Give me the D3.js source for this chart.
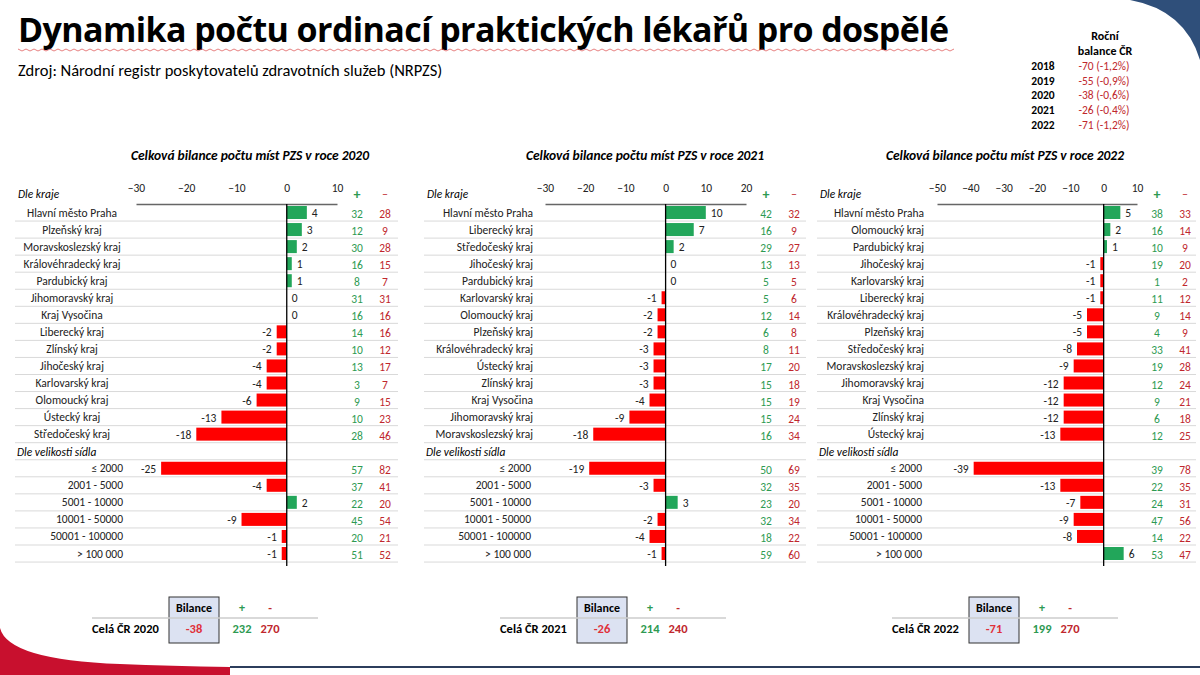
<!DOCTYPE html>
<html><head><meta charset="utf-8">
<script src="https://cdn.jsdelivr.net/npm/d3@7/dist/d3.min.js"></script>
<style>body{margin:0;background:#fff;font-family:Calibri,"Liberation Sans Narrow","Open Sans",sans-serif;}</style>
</head><body>
<svg id="c" width="1200" height="675"></svg>
<script>
const regions2020 = ["Hlavní město Praha","Plzeňský kraj","Moravskoslezský kraj","Královéhradecký kraj","Pardubický kraj","Jihomoravský kraj","Kraj Vysočina","Liberecký kraj","Zlínský kraj","Jihočeský kraj","Karlovarský kraj","Olomoucký kraj","Ústecký kraj","Středočeský kraj"];
const bal2020 = [4,3,2,1,1,0,0,-2,-2,-4,-4,-6,-13,-18];
const plus2020 = [32,12,30,16,8,31,16,14,10,13,3,9,10,28];
const minus2020 = [28,9,28,15,7,31,16,16,12,17,7,15,23,46];
const regions2021 = ["Hlavní město Praha","Liberecký kraj","Středočeský kraj","Jihočeský kraj","Pardubický kraj","Karlovarský kraj","Olomoucký kraj","Plzeňský kraj","Královéhradecký kraj","Ústecký kraj","Zlínský kraj","Kraj Vysočina","Jihomoravský kraj","Moravskoslezský kraj"];
const bal2021 = [10,7,2,0,0,-1,-2,-2,-3,-3,-3,-4,-9,-18];
const plus2021 = [42,16,29,13,5,5,12,6,8,17,15,15,15,16];
const minus2021 = [32,9,27,13,5,6,14,8,11,20,18,19,24,34];
const regions2022 = ["Hlavní město Praha","Olomoucký kraj","Pardubický kraj","Jihočeský kraj","Karlovarský kraj","Liberecký kraj","Královéhradecký kraj","Plzeňský kraj","Středočeský kraj","Moravskoslezský kraj","Jihomoravský kraj","Kraj Vysočina","Zlínský kraj","Ústecký kraj"];
const bal2022 = [5,2,1,-1,-1,-1,-5,-5,-8,-9,-12,-12,-12,-13];
const plus2022 = [38,16,10,19,1,11,9,4,33,19,12,9,6,12];
const minus2022 = [33,14,9,20,2,12,14,9,41,28,24,21,18,25];
const sizes = ["≤ 2000","2001 - 5000","5001 - 10000","10001 - 50000","50001 - 100000","> 100 000"];
const sizeBal2020 = [-25,-4,2,-9,-1,-1], sizePlus2020 = [57,37,22,45,20,51], sizeMinus2020 = [82,41,20,54,21,52];
const sizeBal2021 = [-19,-3,3,-2,-4,-1], sizePlus2021 = [50,32,23,32,18,59], sizeMinus2021 = [69,35,20,34,22,60];
const sizeBal2022 = [-39,-13,-7,-9,-8,6], sizePlus2022 = [39,22,24,47,14,53], sizeMinus2022 = [78,35,31,56,22,47];
const totals = [[2020,-38,232,270],[2021,-26,214,240],[2022,-71,199,270]];
const yearBalance = [["2018","-70 (-1,2%)"],["2019","-55 (-0,9%)"],["2020","-38 (-0,6%)"],["2021","-26 (-0,4%)"],["2022","-71 (-1,2%)"]];

const GREEN = "#22a65a", RED = "#ff0000", TGREEN = "#2e9a52", TRED = "#c0272d";
const svg = d3.select("#c");

// decorations
svg.append("path").attr("d","M1130,0 Q1185,10 1200,60 L1200,0 Z").attr("fill","#2f4f7a");
svg.append("path").attr("d","M0,628 Q8,660 120,664 Q170,666 230,667 L230,675 L0,675 Z").attr("fill","#c8102e");
svg.append("rect").attr("x",230).attr("y",666).attr("width",970).attr("height",2).attr("fill","#2c3e5c");

svg.append("text").attr("x",18).attr("y",42).attr("font-size",34).attr("font-weight","bold")
  .attr("font-family","'Open Sans',sans-serif").attr("letter-spacing",-0.6)
  .text("Dynamika počtu ordinací praktických lékařů pro dospělé");
svg.append("path").attr("d", d3.range(18,955,4).map((x,i)=>(i?"L":"M")+x+","+(i%2?51:49)).join(""))
  .attr("stroke","#e06060").attr("fill","none").attr("stroke-width",0.8);
svg.append("text").attr("x",18).attr("y",76).attr("font-size",16.5)
  .text("Zdroj: Národní registr poskytovatelů zdravotních služeb (NRPZS)");

svg.append("text").attr("x",1105).attr("y",40).attr("font-size",12).attr("font-weight","bold").attr("text-anchor","middle").text("Roční");
svg.append("text").attr("x",1105).attr("y",55).attr("font-size",12).attr("font-weight","bold").attr("text-anchor","middle").text("balance ČR");
yearBalance.forEach((d,i)=>{
  svg.append("text").attr("x",1043).attr("y",70+i*14.7).attr("font-size",11.5).attr("font-weight","bold").attr("text-anchor","middle").text(d[0]);
  svg.append("text").attr("x",1104).attr("y",70+i*14.7).attr("font-size",11.5).attr("fill",TRED).attr("text-anchor","middle").text(d[1]);
});

const panels = [
  {year:2020, left:15, right:398, x0:136, x1:337, dom:[-30,10], labX:72, labAnchor:"middle", sizeX:123, plusX:357, minusX:385, titleX:250,
   regions:regions2020, bal:bal2020, plus:plus2020, minus:minus2020, sb:sizeBal2020, sp:sizePlus2020, sm:sizeMinus2020, totX:92},
  {year:2021, left:424, right:806, x0:545, x1:746, dom:[-30,20], labX:533, labAnchor:"end", sizeX:531, plusX:766, minusX:794, titleX:645,
   regions:regions2021, bal:bal2021, plus:plus2021, minus:minus2021, sb:sizeBal2021, sp:sizePlus2021, sm:sizeMinus2021, totX:500},
  {year:2022, left:817, right:1196, x0:937, x1:1137, dom:[-50,10], labX:924, labAnchor:"end", sizeX:922, plusX:1157, minusX:1185, titleX:1005,
   regions:regions2022, bal:bal2022, plus:plus2022, minus:minus2022, sb:sizeBal2022, sp:sizePlus2022, sm:sizeMinus2022, totX:892}
];

const rowH = 17.05, yTop = 204;
panels.forEach((p, pi) => {
  const g = svg.append("g");
  const x = d3.scaleLinear().domain(p.dom).range([p.x0, p.x1]);
  g.append("text").attr("x",p.titleX).attr("y",160).attr("text-anchor","middle").attr("font-size",13.5)
    .attr("font-weight","bold").attr("font-style","italic").text("Celková bilance počtu míst PZS v roce " + p.year);
  g.append("text").attr("x",p.left+3).attr("y",198).attr("font-size",11.5).attr("font-style","italic").text("Dle kraje");
  const ax = g.append("g").attr("transform","translate(0,"+yTop+")")
    .call(d3.axisTop(x).tickValues(d3.range(p.dom[0], p.dom[1]+1, 10)).tickSize(0).tickPadding(12));
  ax.select(".domain").attr("stroke","#666").attr("stroke-width",1.3);
  ax.selectAll("text").attr("font-size",11.5).attr("font-family","Calibri,'Liberation Sans Narrow',sans-serif").attr("fill","#222");
  g.append("text").attr("x",p.plusX).attr("y",199).attr("text-anchor","middle").attr("font-size",14).attr("font-weight","bold").attr("fill",TGREEN).text("+");
  g.append("text").attr("x",p.minusX).attr("y",198).attr("text-anchor","middle").attr("font-size",12).attr("fill",TRED).text("–");

  const rows = p.regions.map((n,i)=>({name:n,v:p.bal[i],pl:p.plus[i],mi:p.minus[i],slot:i,size:false}))
    .concat(sizes.map((n,i)=>({name:n,v:p.sb[i],pl:p.sp[i],mi:p.sm[i],slot:i+15,size:true})));
  const yOf = s => yTop + s*rowH;
  d3.range(1,22).forEach(s=>{
    g.append("line").attr("x1",p.left).attr("x2",p.right).attr("y1",yOf(s)).attr("y2",yOf(s)).attr("stroke","#d9d9d9").attr("stroke-width",1);
  });
  g.append("text").attr("x",p.left+2).attr("y",yOf(14)+13).attr("font-size",11.5).attr("font-style","italic").text("Dle velikosti sídla");

  const r = g.selectAll(".row").data(rows).enter().append("g").attr("transform",d=>"translate(0,"+yOf(d.slot)+")");
  r.append("rect").attr("x",d=>x(Math.min(0,d.v))).attr("width",d=>Math.abs(x(d.v)-x(0))).attr("y",2).attr("height",13)
    .attr("fill",d=>d.v>=0?GREEN:RED);
  r.append("text").attr("x",d=>d.size?p.sizeX:p.labX).attr("y",12.5).attr("font-size",11.5)
    .attr("text-anchor",d=>d.size?"end":p.labAnchor).attr("fill","#222").text(d=>d.name);
  r.append("text").attr("x",d=>d.v>=0?x(d.v)+5:x(d.v)-5).attr("y",13).attr("font-size",11.5)
    .attr("text-anchor",d=>d.v>=0?"start":"end").attr("fill","#222").text(d=>d.v);
  r.append("text").attr("x",p.plusX).attr("y",14).attr("text-anchor","middle").attr("font-size",11.5).attr("fill",TGREEN).text(d=>d.pl);
  r.append("text").attr("x",p.minusX).attr("y",14).attr("text-anchor","middle").attr("font-size",11.5).attr("fill",TRED).text(d=>d.mi);
  g.append("line").attr("x1",x(0)).attr("x2",x(0)).attr("y1",yTop).attr("y2",yOf(21)+4).attr("stroke","#000").attr("stroke-width",1.3);

  const t = totals[pi], tx = p.totX;
  g.append("rect").attr("x",tx+77).attr("y",597).attr("width",50).attr("height",46).attr("fill","#dce2f2").attr("stroke","#333");
  g.append("line").attr("x1",tx).attr("x2",tx+226).attr("y1",618).attr("y2",618).attr("stroke","#ccc").attr("stroke-width",1.5);
  g.append("text").attr("x",tx+102).attr("y",612).attr("text-anchor","middle").attr("font-size",12).attr("font-weight","bold").text("Bilance");
  g.append("text").attr("x",tx+150).attr("y",612).attr("text-anchor","middle").attr("font-size",12).attr("font-weight","bold").attr("fill",TGREEN).text("+");
  g.append("text").attr("x",tx+178).attr("y",612).attr("text-anchor","middle").attr("font-size",12).attr("font-weight","bold").attr("fill",TRED).text("-");
  g.append("text").attr("x",tx).attr("y",633).attr("font-size",12.5).attr("font-weight","bold").text("Celá ČR " + t[0]);
  g.append("text").attr("x",tx+102).attr("y",633).attr("text-anchor","middle").attr("font-size",12.5).attr("font-weight","bold").attr("fill","#e0303a").text(t[1]);
  g.append("text").attr("x",tx+150).attr("y",633).attr("text-anchor","middle").attr("font-size",12.5).attr("font-weight","bold").attr("fill",TGREEN).text(t[2]);
  g.append("text").attr("x",tx+178).attr("y",633).attr("text-anchor","middle").attr("font-size",12.5).attr("font-weight","bold").attr("fill",TRED).text(t[3]);
});
</script>
</body></html>
